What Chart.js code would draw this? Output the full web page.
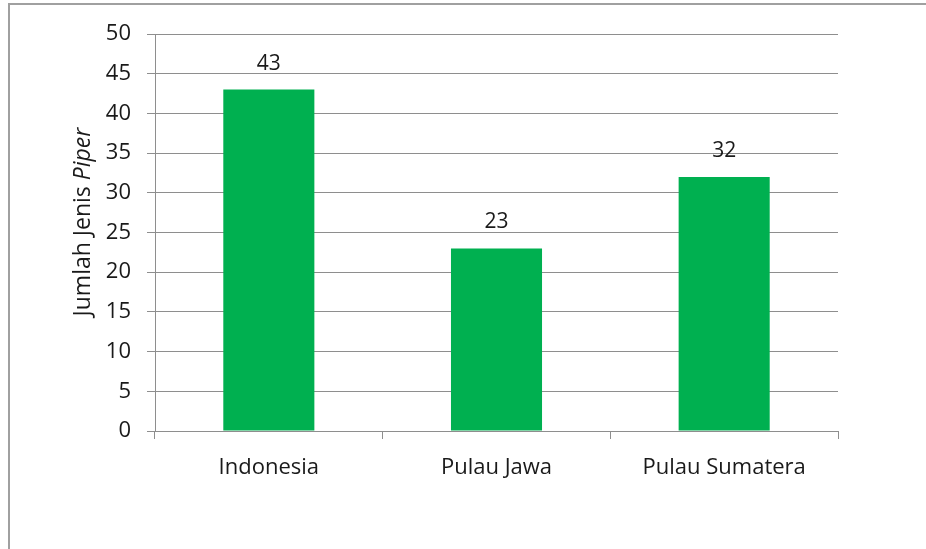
<!DOCTYPE html>
<html>
<head>
<meta charset="utf-8">
<script src="https://cdn.jsdelivr.net/npm/chart.js@4"></script>
<style>
  body { margin: 0; background: #fff; }
  #wrap { position: relative; width: 926px; height: 549px; overflow: hidden; }
  #frame { position: absolute; left: 8px; top: 3px; width: 940px; height: 560px;
           border-left: 2px solid #a0a0a0; border-top: 2px solid #a0a0a0; pointer-events: none; }
  canvas { position: absolute; left: 0; top: 0; }
</style>
</head>
<body>
<div id="wrap">
  <canvas id="myChart" width="926" height="549"></canvas>
  <div id="frame"></div>
</div>
<script>
const categories = ['Indonesia', 'Pulau Jawa', 'Pulau Sumatera'];
const jumlahJenis = [43, 23, 32];
const yTicks = [0, 5, 10, 15, 20, 25, 30, 35, 40, 45, 50];

const fontFamily = '"Open Sans", "Noto Sans", sans-serif';
const gridColor = '#8e8e8e';

// value labels above each bar
const barLabels = {
  id: 'barLabels',
  afterDatasetsDraw(chart) {
    const ctx = chart.ctx;
    ctx.save();
    ctx.font = '21px ' + fontFamily;
    ctx.fillStyle = '#1a1a1a';
    ctx.textAlign = 'center';
    ctx.textBaseline = 'alphabetic';
    chart.getDatasetMeta(0).data.forEach(function (bar, i) {
      ctx.fillText(jumlahJenis[i], bar.x, bar.y - 20);
    });
    ctx.restore();
  }
};

// y title with italic "Piper"
const yTitle = {
  id: 'yTitle',
  afterDraw(chart) {
    const ctx = chart.ctx;
    const part1 = 'Jumlah Jenis ';
    const part2 = 'Piper';
    ctx.save();
    ctx.fillStyle = '#1a1a1a';
    ctx.textBaseline = 'middle';
    ctx.font = '23px ' + fontFamily;
    const w1 = ctx.measureText(part1).width;
    ctx.font = 'italic 23px ' + fontFamily;
    const w2 = ctx.measureText(part2).width;
    ctx.translate(83, 222);
    ctx.rotate(-Math.PI / 2);
    let x = -(w1 + w2) / 2;
    ctx.textAlign = 'left';
    ctx.font = '23px ' + fontFamily;
    ctx.fillText(part1, x, 0);
    ctx.font = 'italic 23px ' + fontFamily;
    ctx.fillText(part2, x + w1, 0);
    ctx.restore();
  }
};

new Chart(document.getElementById('myChart'), {
  type: 'bar',
  data: {
    labels: categories,
    datasets: [{
      data: jumlahJenis,
      backgroundColor: '#00b050',
      barPercentage: 0.4,
      categoryPercentage: 1.0
    }]
  },
  options: {
    responsive: false,
    animation: false,
    layout: { padding: { left: 0, right: 88, top: 34, bottom: 0 } },
    plugins: {
      legend: { display: false },
      tooltip: { enabled: false }
    },
    scales: {
      x: {
        afterFit(scale) { scale.height = 118; },
        grid: { drawOnChartArea: false, drawTicks: true, tickLength: 8, color: gridColor, offset: true },
        border: { display: true, color: gridColor, width: 1 },
        ticks: { color: '#1a1a1a', font: { family: fontFamily, size: 22 }, padding: 16 }
      },
      y: {
        min: 0,
        max: 50,
        afterFit(scale) { scale.width = 155; },
        afterBuildTicks(scale) { scale.ticks = yTicks.map(v => ({ value: v })); },
        grid: { color: gridColor, tickLength: 8, lineWidth: 1 },
        border: { display: true, color: gridColor, width: 1 },
        ticks: { color: '#1a1a1a', font: { family: fontFamily, size: 22 }, padding: 16 }
      }
    }
  },
  plugins: [barLabels, yTitle]
});
</script>
</body>
</html>
